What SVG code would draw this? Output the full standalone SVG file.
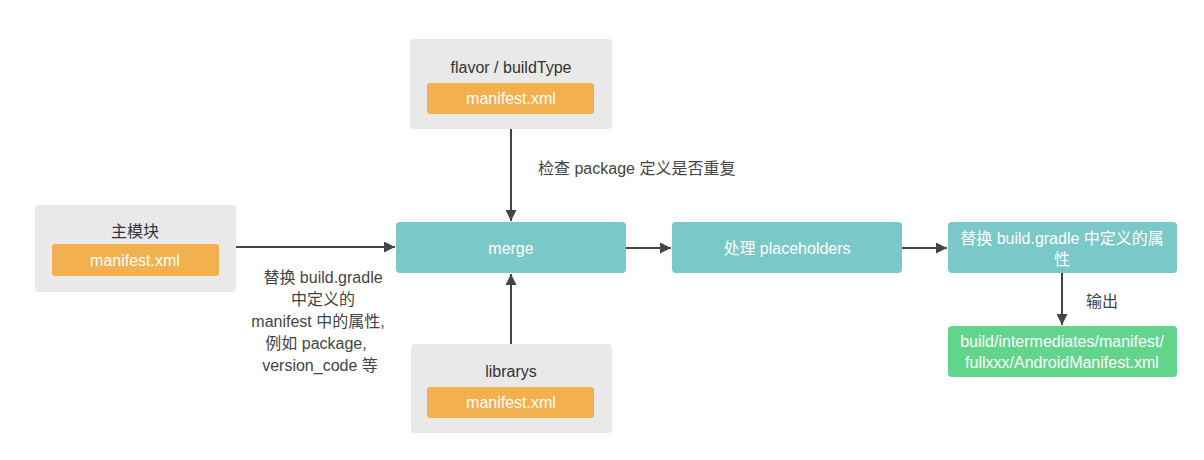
<svg xmlns="http://www.w3.org/2000/svg" width="1204" height="460" viewBox="0 0 1204 460">
<defs>
<marker id="arr" viewBox="0 0 10 10" refX="10" refY="5" markerWidth="11" markerHeight="11" markerUnits="userSpaceOnUse" orient="auto"><path d="M0,0 L10,5 L0,10 z" fill="#444"/></marker>
<style>
.grey{fill:#e9e9e9}
.orange{fill:#f2b04f}
.teal{fill:#7bc8c8}
.green{fill:#63d48c}
text{font-family:"Liberation Sans","Noto Sans CJK SC",sans-serif;font-size:16px;text-anchor:middle}
.dark{fill:#333}
.white{fill:#fff}
.lbl{fill:#444}
.edge{stroke:#444;stroke-width:2;fill:none;marker-end:url(#arr)}
</style>
</defs>
<rect width="1204" height="460" fill="#fff"/>
<g id="connectors">
<line class="edge" x1="236" y1="247" x2="395" y2="247"/>
<line class="edge" x1="511" y1="129" x2="511" y2="221"/>
<line class="edge" x1="511" y1="344" x2="511" y2="274"/>
<line class="edge" x1="626" y1="248" x2="671" y2="248"/>
<line class="edge" x1="902" y1="248" x2="947" y2="248"/>
<line class="edge" x1="1062" y1="273" x2="1062" y2="325"/>
<text class="lbl" x="323" y="283">替换 build.gradle</text>
<text class="lbl" x="323" y="305">中定义的</text>
<text class="lbl" x="318" y="327">manifest 中的属性,</text>
<text class="lbl" x="316" y="349">例如 package,</text>
<text class="lbl" x="320" y="371">version_code 等</text>
<text class="lbl" x="538" y="174" style="text-anchor:start">检查 package 定义是否重复</text>
<text class="lbl" x="1086" y="307" style="text-anchor:start">输出</text>
</g>
<g id="main-module">
<rect class="grey" x="35" y="205" width="201" height="87" rx="4"/>
<text class="dark" x="135" y="237">主模块</text>
<rect class="orange" x="52" y="244" width="167" height="32" rx="3"/>
<text class="white" x="135" y="266">manifest.xml</text>
</g>
<g id="flavor">
<rect class="grey" x="410" y="39" width="202" height="90" rx="4"/>
<text class="dark" x="511" y="73">flavor / buildType</text>
<rect class="orange" x="427" y="83" width="167" height="31" rx="3"/>
<text class="white" x="511" y="104">manifest.xml</text>
</g>
<g id="librarys">
<rect class="grey" x="411" y="344" width="201" height="89" rx="4"/>
<text class="dark" x="511" y="377">librarys</text>
<rect class="orange" x="427" y="387" width="167" height="31" rx="3"/>
<text class="white" x="511" y="408">manifest.xml</text>
</g>
<g id="merge">
<rect class="teal" x="396" y="222" width="230" height="51" rx="4"/>
<text class="white" x="511" y="254">merge</text>
</g>
<g id="placeholders">
<rect class="teal" x="672" y="222" width="230" height="51" rx="4"/>
<text class="white" x="787" y="254">处理 placeholders</text>
</g>
<g id="replace">
<rect class="teal" x="948" y="222" width="229" height="51" rx="4"/>
<text class="white" x="1062" y="244">替换 build.gradle 中定义的属</text>
<text class="white" x="1062" y="265">性</text>
</g>
<g id="output">
<rect class="green" x="948" y="326" width="229" height="51" rx="4"/>
<text class="white" x="1062" y="347">build/intermediates/manifest/</text>
<text class="white" x="1062" y="368">fullxxx/AndroidManifest.xml</text>
</g>
</svg>
